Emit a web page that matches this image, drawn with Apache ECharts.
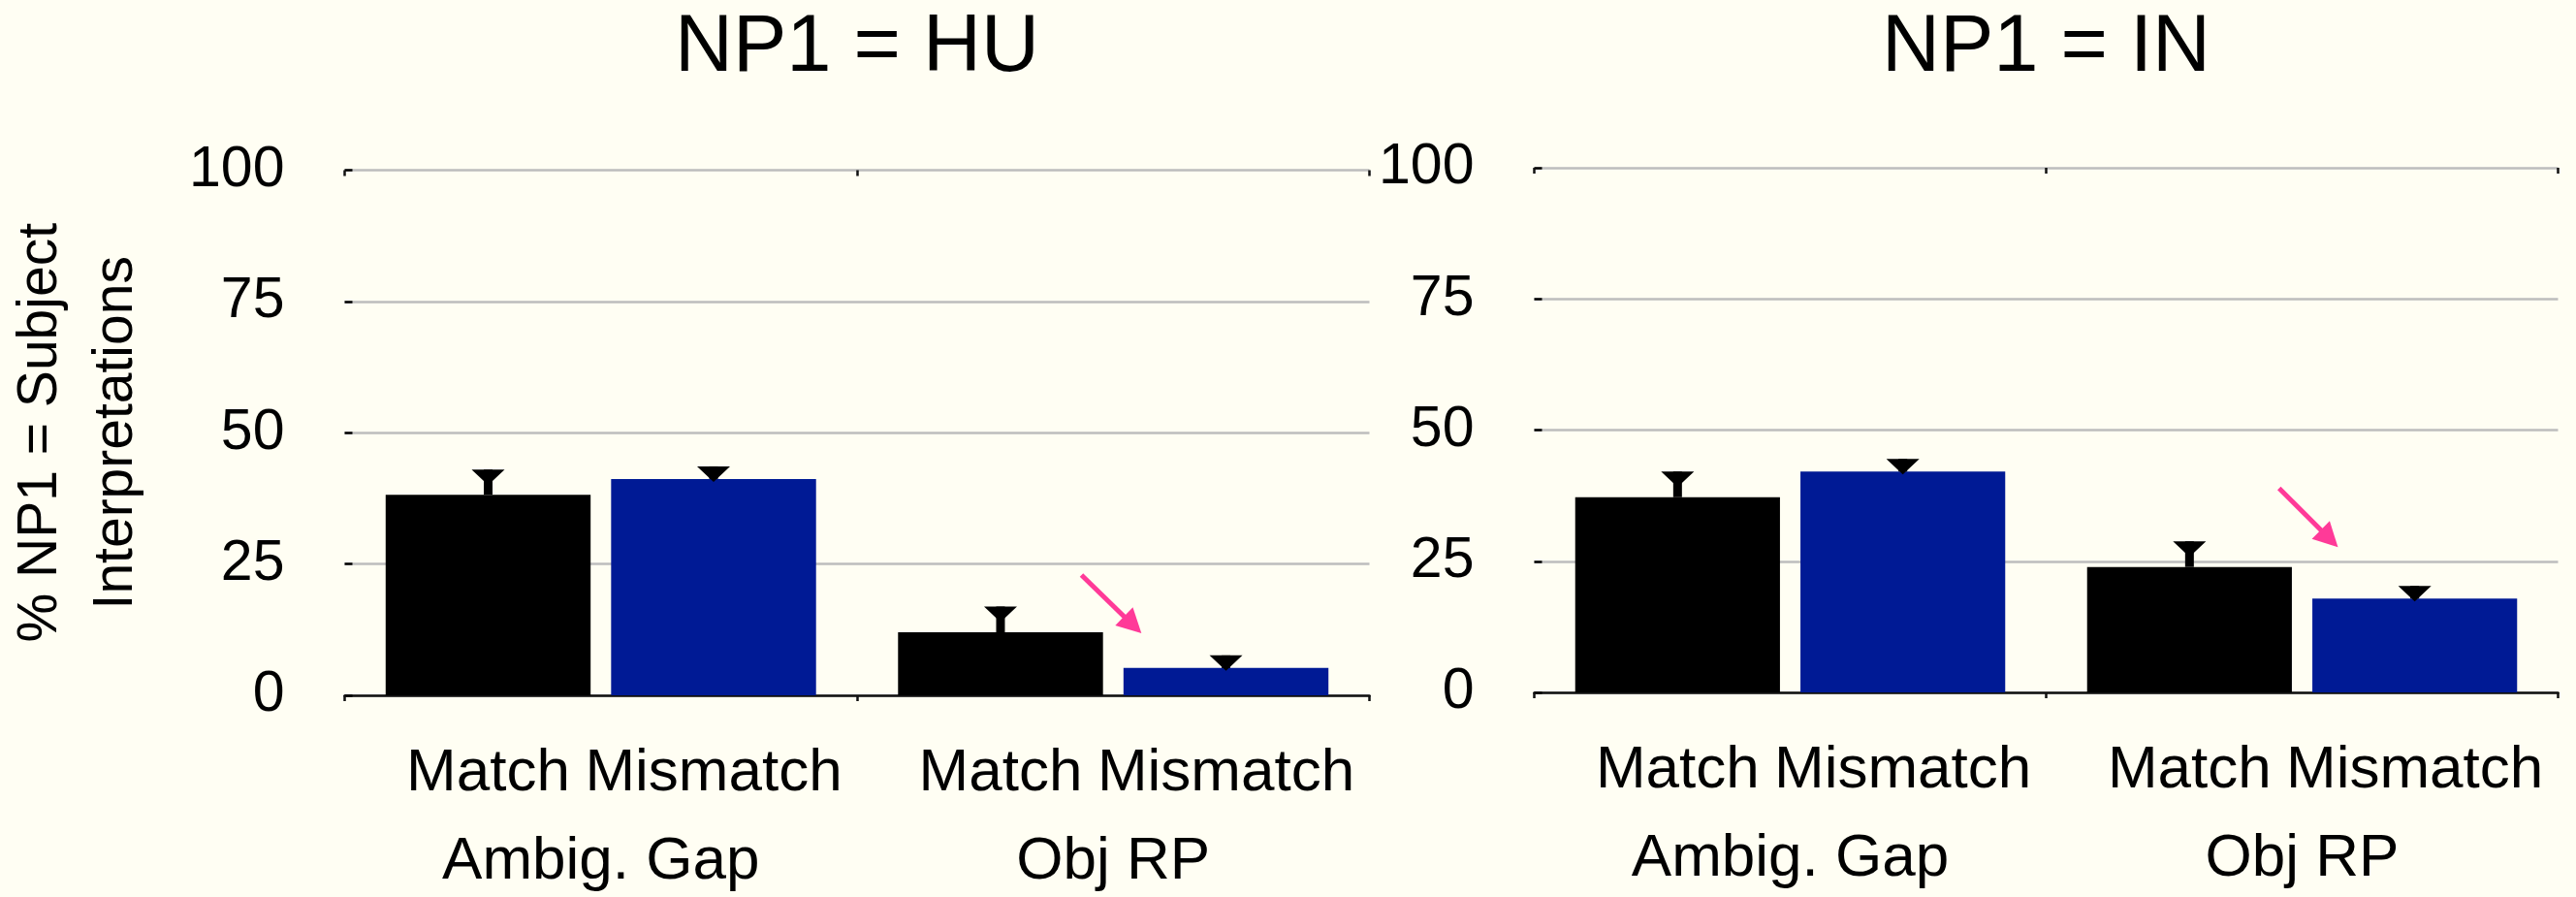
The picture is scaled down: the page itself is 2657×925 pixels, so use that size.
<!DOCTYPE html>
<html>
<head>
<meta charset="utf-8">
<title>NP1 = Subject interpretations</title>
<script src="https://cdn.jsdelivr.net/npm/echarts@6/dist/echarts.min.js"></script>
<style>
  html, body { margin: 0; padding: 0; background: #fffef3; }
  #chart { width: 2657px; height: 925px; }
</style>
</head>
<body>
<div id="chart"></div>
<script>
// ---- data -------------------------------------------------------------
const categories = ['Ambig. Gap', 'Obj RP'];
const conditions = ['Match', 'Mismatch'];
const yTicks = [0, 25, 50, 75, 100];
const panelTitles = ['NP1 = HU', 'NP1 = IN'];
const yAxisTitle = '% NP1 = Subject\nInterpretations';

// % NP1 = subject interpretations, NP1 = HU
const huMatch = [38.2, 12.0];
const huMismatch = [41.2, 5.2];
const huMatchErr = [4.8, 4.9];
const huMismatchErr = [2.4, 2.4];

// % NP1 = subject interpretations, NP1 = IN
const inMatch = [37.2, 23.9];
const inMismatch = [42.1, 17.9];
const inMatchErr = [4.9, 4.9];
const inMismatchErr = [2.4, 2.4];

// highlight arrows: [category index, tail value, tip value]
const huArrow = [1, 22.9, 11.8];
const inArrow = [1, 38.9, 27.7];

// ---- styling / layout ------------------------------------------------
const FONT = '"Liberation Sans", Arial, sans-serif';
const INK = '#000000';
const BLUE = '#001a95';
const PINK = '#ff3a98';
const GRID_GRAY = '#bdbdbd';

const panels = [
  { title: panelTitles[0], match: huMatch, mismatch: huMismatch, matchErr: huMatchErr, mismatchErr: huMismatchErr,
    arrow: huArrow, arrowDx: [-0.062, 0.055],
    grid: { left: 355.5, top: 175.5, width: 1057, height: 541.5 } },
  { title: panelTitles[1], match: inMatch, mismatch: inMismatch, matchErr: inMatchErr, mismatchErr: inMismatchErr,
    arrow: inArrow, arrowDx: [-0.045, 0.07],
    grid: { left: 1582.5, top: 173, width: 1056, height: 541 } }
];

// bars take 40% of a band, 10% gap between the pair
const BAR_W = 0.40, BAR_GAP = 0.10;
const SIDE_OFFSET = (BAR_W + BAR_W * BAR_GAP) / 2;

function renderErrorBar(params, api) {
  const cat = api.value(0);
  const val = api.value(1);
  const top = api.value(2);
  const side = api.value(3);
  const bw = api.size([1, 0])[0];
  const x = api.coord([cat, 0])[0] + side * SIDE_OFFSET * bw;
  const yVal = api.coord([cat, val])[1];
  const yTop = api.coord([cat, top])[1];
  const children = [];
  if (yVal - yTop > 0) {
    children.push({ type: 'rect', shape: { x: x - 4.5, y: yTop, width: 9, height: yVal - yTop },
      style: { fill: INK } });
  }
  children.push({ type: 'polygon', shape: { points: [[x - 17, yTop], [x + 17, yTop], [x, yTop + 16]] },
    style: { fill: INK } });
  return { type: 'group', children };
}

function makeArrowRenderer(dx) {
  return function (params, api) {
    const cat = api.value(0);
    const bw = api.size([1, 0])[0];
    const cx = api.coord([cat, 0])[0];
    const tail = [cx + dx[0] * bw, api.coord([cat, api.value(1)])[1]];
    const tip = [cx + dx[1] * bw, api.coord([cat, api.value(2)])[1]];
    const vx = tip[0] - tail[0], vy = tip[1] - tail[1];
    const len = Math.sqrt(vx * vx + vy * vy);
    const ux = vx / len, uy = vy / len;
    const headLen = 25, headHalf = 13;
    const base = [tip[0] - ux * headLen, tip[1] - uy * headLen];
    const px = -uy, py = ux;
    return {
      type: 'group',
      children: [
        { type: 'line', shape: { x1: tail[0], y1: tail[1], x2: base[0] + ux * 4, y2: base[1] + uy * 4 },
          style: { stroke: PINK, lineWidth: 5 } },
        { type: 'polygon',
          shape: { points: [tip, [base[0] + px * headHalf, base[1] + py * headHalf], [base[0] - px * headHalf, base[1] - py * headHalf]] },
          style: { fill: PINK } }
      ]
    };
  };
}

const option = {
  backgroundColor: '#fffef3',
  animation: false,
  textStyle: { fontFamily: FONT },
  grid: [],
  xAxis: [],
  yAxis: [],
  series: [],
  graphic: []
};

panels.forEach((p, i) => {
  option.grid.push(Object.assign({ containLabel: false, outerBoundsMode: 'none' }, p.grid));

  const mainX = option.xAxis.length;
  option.xAxis.push({
    type: 'category', gridIndex: i, data: categories,
    axisLine: { show: true, lineStyle: { color: '#111', width: 2.5 } },
    axisTick: { show: true, length: 6, lineStyle: { color: '#111', width: 2.5 } },
    axisLabel: { show: true, margin: 172, verticalAlign: 'middle', fontSize: 62, color: INK, fontFamily: FONT },
    splitLine: { show: false }
  });
  // second category axis only to draw the tick half that crosses above the baseline
  option.xAxis.push({
    type: 'category', gridIndex: i, data: categories,
    axisLine: { show: false },
    axisTick: { show: true, inside: true, length: 6, lineStyle: { color: '#111', width: 2.5 } },
    axisLabel: { show: false },
    splitLine: { show: false }
  });

  option.yAxis.push({
    type: 'value', gridIndex: i, min: yTicks[0], max: yTicks[yTicks.length - 1], interval: yTicks[1] - yTicks[0],
    axisLine: { show: false },
    axisTick: { show: true, inside: true, length: 8, lineStyle: { color: INK, width: 2.5 } },
    axisLabel: { show: true, margin: 62, fontSize: 59, color: INK, fontFamily: FONT, padding: [10, 0, 0, 0] },
    splitLine: { show: true, lineStyle: { color: GRID_GRAY, width: 2.5 } },
    name: i === 0 ? yAxisTitle : '',
    nameLocation: 'middle', nameRotate: 90, nameGap: 196,
    nameTextStyle: { fontSize: 57, lineHeight: 78, color: INK, fontFamily: FONT, align: 'center' }
  });

  const barLabel = {
    show: true, position: 'bottom', distance: 81, verticalAlign: 'middle',
    formatter: '{a}', fontSize: 62, color: INK, fontFamily: FONT
  };

  option.series.push({
    type: 'bar', name: conditions[0], xAxisIndex: mainX, yAxisIndex: i,
    data: p.match, barWidth: (BAR_W * 100) + '%', barGap: (BAR_GAP * 100) + '%',
    itemStyle: { color: INK }, label: barLabel, z: 2
  });
  option.series.push({
    type: 'bar', name: conditions[1], xAxisIndex: mainX, yAxisIndex: i,
    data: p.mismatch, barWidth: (BAR_W * 100) + '%', barGap: (BAR_GAP * 100) + '%',
    itemStyle: { color: BLUE }, label: barLabel, z: 2
  });

  const errData = [];
  p.match.forEach((v, k) => errData.push([k, v, v + p.matchErr[k], -1]));
  p.mismatch.forEach((v, k) => errData.push([k, v, v + p.mismatchErr[k], 1]));
  option.series.push({
    type: 'custom', xAxisIndex: mainX, yAxisIndex: i, renderItem: renderErrorBar,
    data: errData, z: 5, silent: true
  });

  option.series.push({
    type: 'custom', xAxisIndex: mainX, yAxisIndex: i, renderItem: makeArrowRenderer(p.arrowDx),
    data: [p.arrow], z: 6, silent: true
  });

  option.graphic.push({
    type: 'text',
    x: p.grid.left + p.grid.width / 2, y: 50,
    style: { text: p.title, font: '83px ' + FONT, fill: INK, textAlign: 'center', textVerticalAlign: 'middle' }
  });
});

const chart = echarts.init(document.getElementById('chart'), null, { renderer: 'canvas' });
chart.setOption(option);
</script>
</body>
</html>
